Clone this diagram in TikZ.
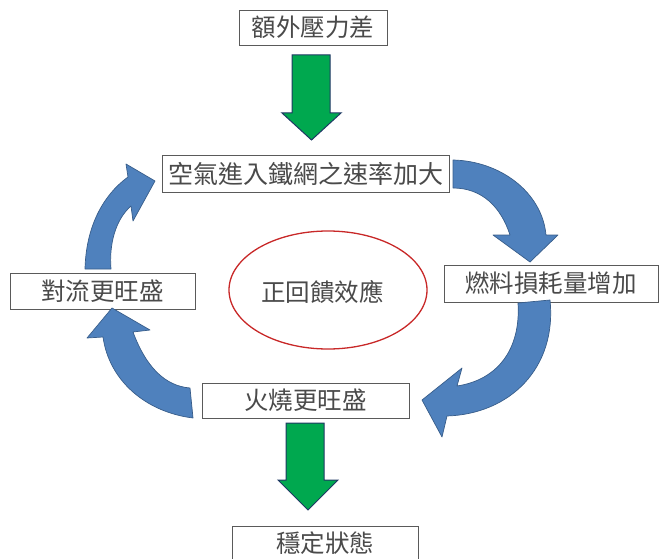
\documentclass[tikz,border=0pt]{standalone}
\usepackage{fontspec}
\setmainfont{Noto Sans CJK TC}
\usetikzlibrary{shapes.geometric}
\definecolor{txt}{HTML}{4A4A4A}
\definecolor{boxline}{HTML}{5A5A5A}
\definecolor{bluefill}{HTML}{4F81BD}
\definecolor{blueline}{HTML}{385D8A}
\definecolor{greenfill}{HTML}{00A84F}
\definecolor{greenline}{HTML}{1F3864}
\tikzset{
  lbl/.style={draw=boxline, line width=0.8pt, fill=white, text=txt, inner sep=0pt,
    font=\fontsize{24.5}{29}\selectfont, anchor=center},
  bluearrow/.style={fill=bluefill, draw=blueline, line width=0.7pt, line join=round},
  greenarrow/.style={fill=greenfill, draw=greenline, line width=1pt, line join=miter},
}
\begin{document}
\begin{tikzpicture}[x=1pt, y=-1pt]
\useasboundingbox (0,0) rectangle (659,559);
\clip (0,0) rectangle (659,559);

% boxes
\node[lbl, minimum width=148pt, minimum height=35pt] (pressure) at (313,27.5) {額外壓力差};
\node[lbl, minimum width=287pt, minimum height=37pt, font=\fontsize{25}{30}\selectfont] (air) at (305.5,173.5) {空氣進入鐵網之速率加大};
\node[lbl, minimum width=185pt, minimum height=36pt] (convect) at (102.5,291) {對流更旺盛};
\node[lbl, minimum width=214pt, minimum height=37pt] (fuel) at (551,283.5) {燃料損耗量增加};
\node[lbl, minimum width=207pt, minimum height=35pt] (fire) at (305.5,400.5) {火燒更旺盛};
\node[lbl, minimum width=186pt, minimum height=40pt] (steady) at (325,546) {};
\node[text=txt, font=\fontsize{24.5}{29}\selectfont, inner sep=0pt] (steadytext) at (325,543) {穩定狀態};

% ellipse
\node[ellipse, draw={rgb,255:red,200;green,40;blue,40}, line width=1.3pt, minimum width=198pt, minimum height=118pt,
      inner sep=0pt] (loop) at (328,290) {};
\node[text=txt, font=\fontsize{24.5}{29}\selectfont, inner sep=0pt] (looptext) at (322.5,292) {正回饋效應};

% green arrows
\draw[greenarrow] (292,55) -- (330,55) -- (330,113) -- (341,113) -- (311.5,140)
  -- (282,113) -- (292,113) -- cycle;
\draw[greenarrow] (286,423) -- (324,423) -- (324,480) -- (338,480) -- (308,510)
  -- (278,480) -- (286,480) -- cycle;

% blue curved arrows
% convect -> air
\draw[bluearrow] (85,269) .. controls (86,228) and (102,196) .. (128,177)
  -- (126,164) -- (155,181) -- (133,221) -- (131,206)
  .. controls (115,220) and (109,245) .. (111,269) -- cycle;
% air -> fuel
\draw[bluearrow] (453,160) .. controls (500,161) and (542,192) .. (546,235)
  -- (558,235) -- (530,262) -- (493,235) -- (510,235)
  .. controls (501,207) and (482,188) .. (453,188) -- cycle;
% fuel -> fire
\draw[bluearrow] (550,300) .. controls (557,368) and (510,414) .. (447,416)
  -- (442,437) -- (422,400) -- (462,368) -- (457,386)
  .. controls (497,380) and (521,350) .. (518,303) -- cycle;
% fire -> convect
\draw[bluearrow] (193,418) .. controls (145,412) and (109,380) .. (103,337)
  -- (87,338) -- (112,308) -- (150,330) -- (133,332)
  .. controls (146,367) and (165,386) .. (190,388) -- cycle;
\end{tikzpicture}
\end{document}
